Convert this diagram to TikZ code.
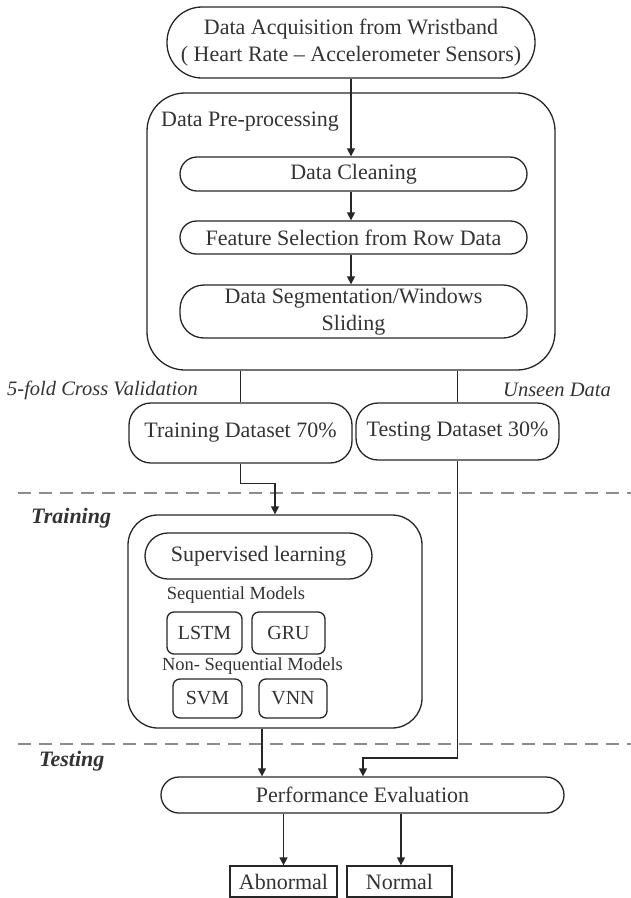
\documentclass[tikz,border=0pt]{standalone}
\usepackage{fontspec}
\setmainfont{Liberation Serif}
\usetikzlibrary{arrows.meta}
\tikzset{
  box/.style={draw=black!85, line width=1.3pt, inner sep=0pt, align=center, text=black!80,
              font=\fontsize{22}{27}\selectfont},
  arr/.style={line width=1.3pt, draw=black!85, -{Triangle[length=8pt,width=8pt]}},
  ln/.style={line width=1.3pt, draw=black!85},
  sep/.style={line width=2.6pt, draw=black!45, dash pattern=on 13pt off 8pt},
  lbl/.style={text=black!80, inner sep=0pt},
}
\begin{document}
\begin{tikzpicture}[x=1pt,y=-1pt]
\useasboundingbox (0,0) rectangle (631,898);
% nodes
\node[box, minimum width=368pt, minimum height=71pt, rounded corners=35pt] (acq) at (351,42.5)
  {Data Acquisition from Wristband\\( Heart Rate -- Accelerometer Sensors)};
\node[box, minimum width=408pt, minimum height=277pt, rounded corners=38pt] (pre) at (351,231.5) {};
\node[lbl, anchor=west, font=\fontsize{22}{27}\selectfont] (prelbl) at (161,122) {Data Pre-processing};
\node[box, minimum width=347pt, minimum height=34pt, rounded corners=17pt] (clean) at (353.5,174) {Data Cleaning};
\node[box, minimum width=347pt, minimum height=33pt, rounded corners=16.5pt] (feat) at (353.5,237.5) {Feature Selection from Row Data};
\node[box, minimum width=347pt, minimum height=53pt, rounded corners=24pt] (seg) at (353.5,311.5) {Data Segmentation/Windows\\Sliding};
\node[box, minimum width=223pt, minimum height=60pt, rounded corners=22pt] (train) at (240.5,433) {Training Dataset 70\%};
\node[box, minimum width=203pt, minimum height=57pt, rounded corners=22pt] (test) at (457.5,431.5) {Testing Dataset 30\%};
\node[lbl, anchor=west, font=\fontsize{20.5}{24}\selectfont\itshape] (cv) at (7,390) {5-fold Cross Validation};
\node[lbl, anchor=east, font=\fontsize{20.5}{24}\selectfont\itshape] (unseen) at (611,390) {Unseen Data};
% training
\node[lbl, anchor=west, font=\fontsize{22}{26}\selectfont\bfseries\itshape] (trlbl) at (31,518) {Training};
\node[box, minimum width=294pt, minimum height=213pt, rounded corners=30pt] (tbox) at (275,621.5) {};
\node[box, minimum width=227pt, minimum height=46pt, rounded corners=23pt] (sup) at (258.5,556) {Supervised learning};
\node[lbl, font=\fontsize{18.5}{22}\selectfont] (seq) at (236,595) {Sequential Models};
\node[box, minimum width=75pt, minimum height=42pt, rounded corners=7pt, font=\fontsize{20}{24}\selectfont] (lstm) at (204.5,633) {LSTM};
\node[box, minimum width=73pt, minimum height=42pt, rounded corners=7pt, font=\fontsize{20}{24}\selectfont] (gru) at (288.5,633) {GRU};
\node[lbl, font=\fontsize{18.5}{22}\selectfont] (nonseq) at (252.5,666) {Non- Sequential Models};
\node[box, minimum width=69pt, minimum height=39pt, rounded corners=7pt, font=\fontsize{20}{24}\selectfont] (svm) at (207.5,698.5) {SVM};
\node[box, minimum width=68pt, minimum height=39pt, rounded corners=7pt, font=\fontsize{20}{24}\selectfont] (vnn) at (293,698.5) {VNN};
% testing
\node[lbl, anchor=west, font=\fontsize{22}{26}\selectfont\bfseries\itshape] (tslbl) at (39,761) {Testing};
\node[box, minimum width=403pt, minimum height=36pt, rounded corners=18pt] (perf) at (362.5,795) {Performance Evaluation};
\node[box, minimum width=107pt, minimum height=31pt] (abn) at (283.5,881.5) {Abnormal};
\node[box, minimum width=105pt, minimum height=31pt] (norm) at (399.5,881.5) {Normal};
% separators
\coordinate (d1a) at (18,493); \coordinate (d1b) at (631,493);
\coordinate (d2a) at (18,744); \coordinate (d2b) at (631,744);
\draw[sep] (d1a) -- (d1b);
\draw[sep] (d2a) -- (d2b);
% connectors
\draw[arr] (acq.south) -- (acq.south |- clean.north);
\draw[arr] (acq.south |- clean.south) -- (acq.south |- feat.north);
\draw[arr] (acq.south |- feat.south) -- (acq.south |- seg.north);
\draw[ln] (train.north |- pre.south) -- (train.north);
\draw[ln] (test.north |- pre.south) -- (test.north);
\draw[arr] (train.south) -- ++(0,20) -| (tbox.north);
\coordinate (tj) at (363,758);
\draw[arr] (test.south) |- (tj) -- (tj |- perf.north);
\draw[arr] ([xshift=-13pt]tbox.south) -- ([xshift=-13pt]tbox.south |- perf.north);
\draw[arr] (abn.north |- perf.south) -- (abn.north);
\draw[arr] ([xshift=1.5pt]norm.north |- perf.south) -- ([xshift=1.5pt]norm.north);
\end{tikzpicture}
\end{document}
